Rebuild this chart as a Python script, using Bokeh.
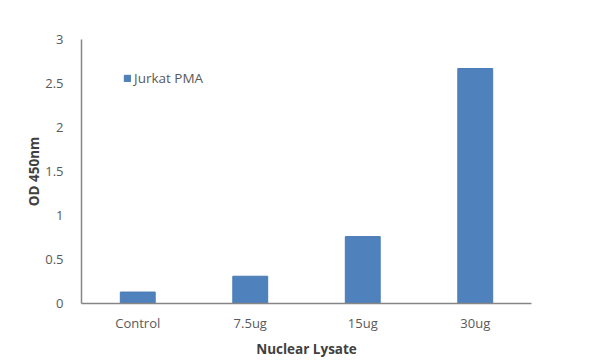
from bokeh.plotting import figure
from bokeh.models import ColumnDataSource, FixedTicker, Legend, LegendItem, Range1d
from bokeh.embed import file_html
from bokeh.resources import INLINE

categories = ["Control", "7.5ug", "15ug", "30ug"]
values = [0.13, 0.31, 0.76, 2.67]
series_name = "Jurkat PMA"
y_ticks = [0, 0.5, 1, 1.5, 2, 2.5, 3]
y_tick_labels = ["0", "0.5", "1", "1.5", "2", "2.5", "3"]

src = ColumnDataSource(dict(cat=categories, val=values))

FONT = "Open Sans"
p = figure(x_range=categories, y_range=Range1d(0, 3), frame_width=450, frame_height=264,
           output_backend="svg", toolbar_location=None,
           min_border_left=81, min_border_right=66, min_border_top=39, min_border_bottom=55)
p.outline_line_color = None
p.xgrid.grid_line_color = None
p.ygrid.grid_line_color = None
p.x_range.range_padding = 0

r = p.vbar(x="cat", top="val", width=0.31, source=src, fill_color="#4f81bd", line_color="#4a7ab3")

p.yaxis.ticker = FixedTicker(ticks=y_ticks)
p.yaxis.major_label_overrides = {t: l for t, l in zip(y_ticks, y_tick_labels)}
for ax in (p.xaxis, p.yaxis):
    ax.axis_line_color = "#868686"
    ax.axis_line_width = 1.5
    ax.major_tick_line_color = None
    ax.minor_tick_line_color = None
    ax.major_label_text_font = FONT
    ax.major_label_text_font_size = "13px"
    ax.major_label_text_color = "#595959"
    ax.axis_label_text_font = FONT
    ax.axis_label_text_font_size = "13.5px"
    ax.axis_label_text_font_style = "bold"
    ax.axis_label_text_color = "#404040"
p.xaxis.axis_label = "Nuclear Lysate"
p.yaxis.axis_label = "OD 450nm"
p.yaxis.major_label_standoff = 12
p.xaxis.major_label_standoff = 4
p.xaxis.axis_label_standoff = 5
p.yaxis.axis_label_standoff = -1

legend = Legend(items=[LegendItem(label=series_name, renderers=[r])], location=(42, 216),
                background_fill_alpha=0, border_line_color=None,
                label_text_font=FONT, label_text_font_size="13.5px", label_text_color="#595959",
                glyph_width=8, glyph_height=8, label_standoff=3, padding=4)
p.add_layout(legend)

open("out.html", "w").write(file_html(p, INLINE))
